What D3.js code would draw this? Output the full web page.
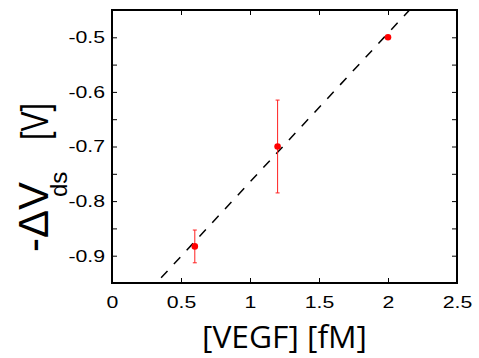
<!DOCTYPE html>
<html>
<head>
<meta charset="utf-8">
<script src="https://cdn.jsdelivr.net/npm/d3@7"></script>
<style>
  html, body { margin: 0; padding: 0; background: #fff; }
  svg { display: block; }
</style>
</head>
<body>
<script>
// ---- data ----
const concentration = [0.6, 1.2, 2.0];          // [VEGF] fM
const deltaVds = [-0.883, -0.700, -0.500];       // -ΔVds (V)
const errorBar = [0.030, 0.085, 0.0];            // ± error (V)
const fitSlope = 0.2725;
const fitIntercept = -1.0375;
const xTicks = [0, 0.5, 1, 1.5, 2, 2.5];
const xTickLabels = ["0", "0.5", "1", "1.5", "2", "2.5"];
const yTicks = [-0.9, -0.85, -0.8, -0.75, -0.7, -0.65, -0.6, -0.55, -0.5];
const yTickLabels = ["-0.9", "", "-0.8", "", "-0.7", "", "-0.6", "", "-0.5"];

const W = 479, H = 358;
const m = {left: 112, right: 22, top: 10, bottom: 75};
const pw = W - m.left - m.right, ph = H - m.top - m.bottom;

const svg = d3.select("body").append("svg").attr("width", W).attr("height", H);
const x = d3.scaleLinear().domain([0, 2.5]).range([m.left, m.left + pw]);
const y = d3.scaleLinear().domain([-0.95, -0.45]).range([m.top + ph, m.top]);

svg.append("clipPath").attr("id", "clip").append("rect")
  .attr("x", m.left).attr("y", m.top).attr("width", pw).attr("height", ph);

// ticks (inward, all four sides)
const tickLen = 5;
const tickFont = "'Liberation Sans', Arial, sans-serif";
const axB = d3.axisBottom(x).tickValues(xTicks).tickSize(-tickLen).tickPadding(12)
  .tickFormat((d, i) => xTickLabels[i]);
const gB = svg.append("g").attr("transform", `translate(0,${m.top + ph})`).call(axB);
const axT = d3.axisTop(x).tickValues(xTicks).tickSize(-tickLen).tickFormat("");
const gT = svg.append("g").attr("transform", `translate(0,${m.top})`).call(axT);
const axL = d3.axisLeft(y).tickValues(yTicks).tickSize(-tickLen).tickPadding(7)
  .tickFormat((d, i) => yTickLabels[i]);
const gL = svg.append("g").attr("transform", `translate(${m.left},0)`).call(axL);
const axR = d3.axisRight(y).tickValues(yTicks).tickSize(-tickLen).tickFormat("");
const gR = svg.append("g").attr("transform", `translate(${m.left + pw},0)`).call(axR);
[gB, gT, gL, gR].forEach(g => {
  g.select(".domain").remove();
  g.selectAll(".tick line").attr("stroke", "#000").attr("stroke-width", 1);
  g.selectAll("text").attr("font-family", tickFont).attr("font-size", 17).attr("fill", "#000");
});
gB.selectAll("text").attr("dy", "0.71em").attr("y", 13);
// the reference's tick labels are horizontally widened
[gB, gL].forEach(g => g.selectAll("text").each(function() {
  const t = d3.select(this);
  if (!t.text()) return;
  const w = this.getComputedTextLength();
  t.attr("textLength", w * 1.25).attr("lengthAdjust", "spacingAndGlyphs");
}));

// fit line
const xs = x.domain();
svg.append("line")
  .attr("clip-path", "url(#clip)")
  .attr("x1", x(xs[0])).attr("y1", y(fitSlope * xs[0] + fitIntercept))
  .attr("x2", x(xs[1])).attr("y2", y(fitSlope * xs[1] + fitIntercept))
  .attr("stroke", "#000").attr("stroke-width", 1.5)
  .attr("stroke-dasharray", "9.4,9.4").attr("stroke-dashoffset", 3);

// error bars
const pts = concentration.map((c, i) => ({c, v: deltaVds[i], e: errorBar[i]}));
const eb = svg.append("g").attr("stroke", "#ff2020").attr("stroke-width", 1);
pts.filter(p => p.e > 0).forEach(p => {
  eb.append("line").attr("x1", x(p.c)).attr("x2", x(p.c)).attr("y1", y(p.v - p.e)).attr("y2", y(p.v + p.e));
  [p.v - p.e, p.v + p.e].forEach(v => {
    eb.append("line").attr("x1", x(p.c) - 2).attr("x2", x(p.c) + 2).attr("y1", y(v)).attr("y2", y(v));
  });
});
svg.append("g").selectAll("circle").data(pts).join("circle")
  .attr("cx", d => x(d.c)).attr("cy", d => y(d.v)).attr("r", 3.3).attr("fill", "#ff0000");

// frame
svg.append("rect").attr("x", m.left).attr("y", m.top).attr("width", pw).attr("height", ph)
  .attr("fill", "none").attr("stroke", "#000").attr("stroke-width", 2);

// x label
svg.append("text").attr("x", m.left + pw / 2).attr("y", 348).attr("text-anchor", "middle")
  .attr("font-family", "'Open Sans', sans-serif").attr("font-size", 31).attr("fill", "#000")
  .attr("textLength", 165).attr("lengthAdjust", "spacingAndGlyphs")
  .text("[VEGF] [fM]");

// y label
const yl = svg.append("g").attr("transform", "translate(48,252) rotate(-90)")
  .attr("font-family", "'Liberation Sans', Arial, sans-serif").attr("fill", "#000");
yl.append("text").attr("x", 0).attr("y", 0).attr("font-size", 42).text("-ΔV");
yl.append("text").attr("x", 55).attr("y", 19).attr("font-size", 24).text("ds");
yl.append("text").attr("x", 112).attr("y", 0).attr("font-size", 38)
  .attr("textLength", 37).attr("lengthAdjust", "spacingAndGlyphs").text("[V]");
</script>
</body>
</html>
